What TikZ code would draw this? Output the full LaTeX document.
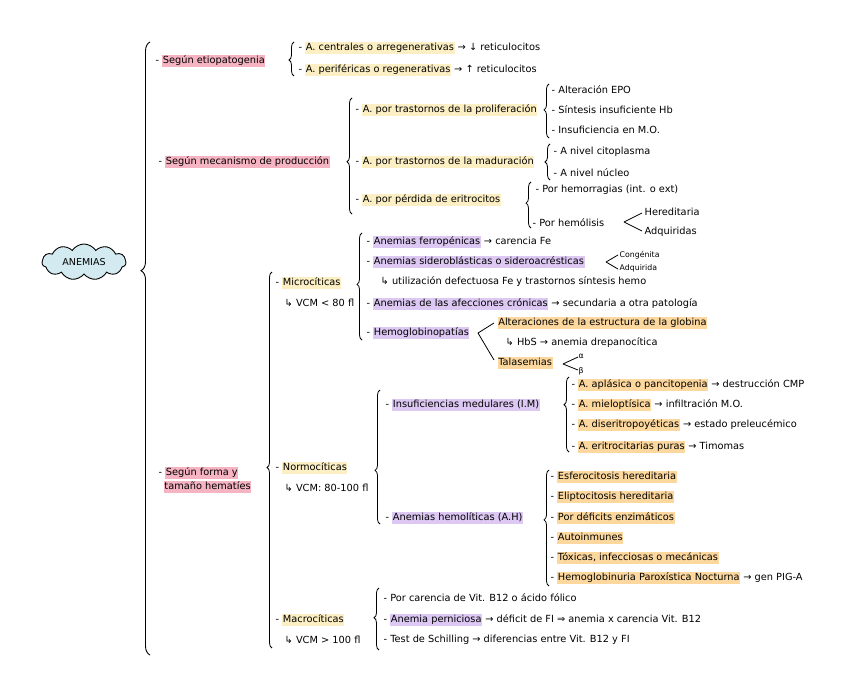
\documentclass[tikz,border=0pt]{standalone}
\usepackage{fontspec}
\setmainfont{DejaVu Sans}
\usetikzlibrary{decorations.pathreplacing,shapes.symbols}
\definecolor{hpink}{HTML}{F6B4C3}
\definecolor{hyel}{HTML}{FCEFC4}
\definecolor{horg}{HTML}{FDD89E}
\definecolor{hvio}{HTML}{DCC8F3}
\definecolor{cloudblue}{HTML}{D3EBF0}
\newcommand{\hlbox}[2]{{\setlength{\fboxsep}{0.6pt}\colorbox{#1}{\rule[-2.5pt]{0pt}{9pt}#2}}}
\newcommand{\hp}[1]{\hlbox{hpink}{#1}}
\newcommand{\hy}[1]{\hlbox{hyel}{#1}}
\newcommand{\ho}[1]{\hlbox{horg}{#1}}
\newcommand{\hv}[1]{\hlbox{hvio}{#1}}
\tikzset{
  txt/.style={anchor=west, inner sep=0.5pt, font=\fontsize{9.8}{11.5}\selectfont},
  smalltxt/.style={anchor=west, inner sep=0.5pt, font=\fontsize{7.8}{9}\selectfont},
  brc/.style={decorate, decoration={brace, amplitude=5pt, aspect=#1}, line width=0.8pt},
  bigbrc/.style={decorate, decoration={brace, amplitude=9pt, aspect=#1}, line width=0.9pt},
  angle/.style={line width=0.8pt, line join=round},
}
\begin{document}
\begin{tikzpicture}[x=1pt,y=-1pt]
\fill[white] (0,0) rectangle (848,695);
\useasboundingbox (0,0) rectangle (848,695);

% root
\node[cloud, cloud puffs=11, cloud puff arc=115, aspect=2.4, draw, line width=0.9pt, fill=cloudblue,
      minimum width=84pt, minimum height=36pt, inner sep=0pt, font=\fontsize{9.5}{11}\selectfont] (root) at (84,262) {ANEMIAS};

% main brace
\coordinate (mbB) at (150,655); \coordinate (mbT) at (150,42);
\draw[bigbrc=0.627] (mbB) -- (mbT);

% ---- Según etiopatogenia
\node[txt] (etio) at (155,61) {- \hp{Según etiopatogenia}};
\coordinate (ebB) at (294,76); \coordinate (ebT) at (294,42);
\draw[brc=0.47] (ebB) -- (ebT);
\node[txt] (e1) at (298,48) {- \hy{A. centrales o arregenerativas} → ↓ reticulocitos};
\node[txt] (e2) at (298,70) {- \hy{A. periféricas o regenerativas} → ↑ reticulocitos};

% ---- Según mecanismo de producción
\node[txt] (mec) at (158,162) {- \hp{Según mecanismo de producción}};
\coordinate (mcB) at (352,214); \coordinate (mcT) at (352,98);
\draw[brc=0.45] (mcB) -- (mcT);

\node[txt] (m1) at (355,110) {- \hy{A. por trastornos de la proliferación}};
\coordinate (p1B) at (549,138); \coordinate (p1T) at (549,84);
\draw[brc=0.52] (p1B) -- (p1T);
\node[txt] (m1a) at (551,90) {- Alteración EPO};
\node[txt] (m1b) at (551,110) {- Síntesis insuficiente Hb};
\node[txt] (m1c) at (551,130) {- Insuficiencia en M.O.};

\node[txt] (m2) at (355,162) {- \hy{A. por trastornos de la maduración}};
\coordinate (p2B) at (550,180); \coordinate (p2T) at (550,144);
\draw[brc=0.5] (p2B) -- (p2T);
\node[txt] (m2a) at (553,152) {- A nivel citoplasma};
\node[txt] (m2b) at (553,173) {- A nivel núcleo};

\node[txt] (m3) at (355,200) {- \hy{A. por pérdida de eritrocitos}};
\coordinate (p3B) at (531,228); \coordinate (p3T) at (531,182);
\draw[brc=0.54] (p3B) -- (p3T);
\node[txt] (m3a) at (535,190) {- Por hemorragias (int. o ext)};
\node[txt] (m3b) at (532,223) {- Por hemólisis};
\coordinate (h1) at (642,213); \coordinate (h2) at (624,222); \coordinate (h3) at (642,231);
\draw[angle] (h1) -- (h2) -- (h3);
\node[txt] (m3b1) at (644,212) {Hereditaria};
\node[txt] (m3b2) at (644,232) {Adquiridas};

% ---- Según forma y tamaño hematíes
\node[txt, align=left] (forma) at (158,480) {- \hp{Según forma y}\\[1pt]\phantom{-\,}\hp{tamaño hematíes}};
\coordinate (fbB) at (272,648); \coordinate (fbT) at (272,272);
\draw[brc=0.48] (fbB) -- (fbT);

% Microcíticas
\node[txt] (mic) at (275,283) {- \hy{Microcíticas}};
\node[txt] (micv) at (284,303) {↳ VCM < 80 fl};
\coordinate (miB) at (362,340); \coordinate (miT) at (362,233);
\draw[brc=0.52] (miB) -- (miT);
\node[txt] (mi1) at (366,242) {- \hv{Anemias ferropénicas} → carencia Fe};
\node[txt] (mi2) at (366,262) {- \hv{Anemias sideroblásticas o sideroacrésticas}};
\coordinate (s1) at (618,255); \coordinate (s2) at (606,262); \coordinate (s3) at (618,269);
\draw[angle] (s1) -- (s2) -- (s3);
\node[smalltxt] (mi2a) at (619,255) {Congénita};
\node[smalltxt] (mi2b) at (619,268) {Adquirida};
\node[txt] (mi2c) at (380,282) {↳ utilización defectuosa Fe y trastornos síntesis hemo};
\node[txt] (mi3) at (366,304) {- \hv{Anemias de las afecciones crónicas} → secundaria a otra patología};
\node[txt] (mi4) at (366,333) {- \hv{Hemoglobinopatías}};
\coordinate (g1) at (494,323); \coordinate (g2) at (478,333); \coordinate (g3) at (494,360);
\draw[angle] (g1) -- (g2) -- (g3);
\node[txt] (mi4a) at (497,323) {\ho{Alteraciones de la estructura de la globina}};
\node[txt] (mi4b) at (505,343) {↳ HbS → anemia drepanocítica};
\node[txt] (mi4c) at (497,363) {\ho{Talasemias}};
\coordinate (t1) at (578,357); \coordinate (t2) at (563,364); \coordinate (t3) at (578,370);
\draw[angle] (t1) -- (t2) -- (t3);
\node[smalltxt] (alpha) at (578,356) {α};
\node[smalltxt] (beta) at (578,371) {β};

% Normocíticas
\node[txt] (nor) at (275,468) {- \hy{Normocíticas}};
\node[txt] (norv) at (284,488) {↳ VCM: 80-100 fl};
\coordinate (noB) at (380,524); \coordinate (noT) at (380,390);
\draw[brc=0.40] (noB) -- (noT);
\node[txt] (no1) at (385,405) {- \hv{Insuficiencias medulares (I.M)}};
\coordinate (inB) at (569,452); \coordinate (inT) at (569,377);
\draw[brc=0.63] (inB) -- (inT);
\node[txt] (no1a) at (571,385) {- \ho{A. aplásica o pancitopenia} → destrucción CMP};
\node[txt] (no1b) at (571,405) {- \ho{A. mieloptísica} → infiltración M.O.};
\node[txt] (no1c) at (571,425) {- \ho{A. diseritropoyéticas} → estado preleucémico};
\node[txt] (no1d) at (571,447) {- \ho{A. eritrocitarias puras} → Timomas};
\node[txt] (no2) at (385,518) {- \hv{Anemias hemolíticas (A.H)}};
\coordinate (heB) at (549,586); \coordinate (heT) at (549,470);
\draw[brc=0.57] (heB) -- (heT);
\node[txt] (no2a) at (550,477) {- \ho{Esferocitosis hereditaria}};
\node[txt] (no2b) at (550,497) {- \ho{Eliptocitosis hereditaria}};
\node[txt] (no2c) at (550,518) {- \ho{Por déficits enzimáticos}};
\node[txt] (no2d) at (550,538) {- \ho{Autoinmunes}};
\node[txt] (no2e) at (550,558) {- \ho{Tóxicas, infecciosas o mecánicas}};
\node[txt] (no2f) at (550,578) {- \ho{Hemoglobinuria Paroxística Nocturna} → gen PIG-A};

% Macrocíticas
\node[txt] (mac) at (275,620) {- \hy{Macrocíticas}};
\node[txt] (macv) at (284,640) {↳ VCM > 100 fl};
\coordinate (maB) at (379,650); \coordinate (maT) at (379,588);
\draw[brc=0.52] (maB) -- (maT);
\node[txt] (ma1) at (383,598) {- Por carencia de Vit. B12 o ácido fólico};
\node[txt] (ma2) at (383,620) {- \hv{Anemia perniciosa} → déficit de FI ⇒ anemia x carencia Vit. B12};
\node[txt] (ma3) at (383,640) {- Test de Schilling → diferencias entre Vit. B12 y FI};
\end{tikzpicture}
\end{document}
